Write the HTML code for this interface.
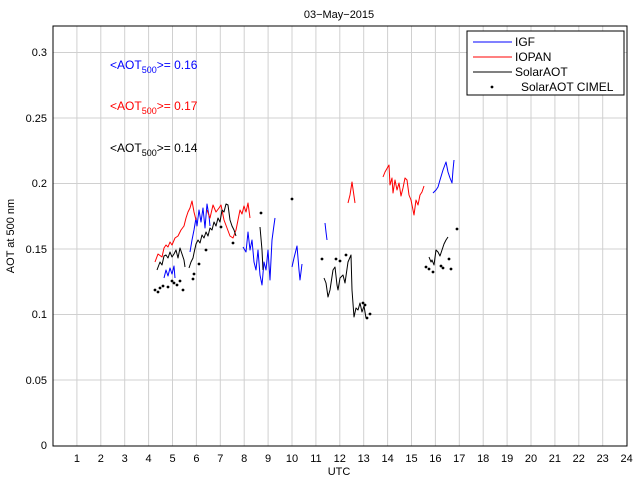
<!DOCTYPE html>
<html><head><meta charset="utf-8"><style>
html,body{margin:0;padding:0;background:#fff;}
svg{display:block;font-family:"Liberation Sans",sans-serif;}
</style></head><body>
<svg width="640" height="480" viewBox="0 0 640 480">
<rect width="640" height="480" fill="#fff"/>
<g stroke="#d0d0d0" stroke-width="1">
<line x1="76.9" y1="26" x2="76.9" y2="446"/><line x1="100.8" y1="26" x2="100.8" y2="446"/><line x1="124.7" y1="26" x2="124.7" y2="446"/><line x1="148.6" y1="26" x2="148.6" y2="446"/><line x1="172.5" y1="26" x2="172.5" y2="446"/><line x1="196.4" y1="26" x2="196.4" y2="446"/><line x1="220.3" y1="26" x2="220.3" y2="446"/><line x1="244.2" y1="26" x2="244.2" y2="446"/><line x1="268.1" y1="26" x2="268.1" y2="446"/><line x1="292" y1="26" x2="292" y2="446"/><line x1="315.9" y1="26" x2="315.9" y2="446"/><line x1="339.8" y1="26" x2="339.8" y2="446"/><line x1="363.7" y1="26" x2="363.7" y2="446"/><line x1="387.6" y1="26" x2="387.6" y2="446"/><line x1="411.5" y1="26" x2="411.5" y2="446"/><line x1="435.4" y1="26" x2="435.4" y2="446"/><line x1="459.3" y1="26" x2="459.3" y2="446"/><line x1="483.2" y1="26" x2="483.2" y2="446"/><line x1="507.1" y1="26" x2="507.1" y2="446"/><line x1="531" y1="26" x2="531" y2="446"/><line x1="554.9" y1="26" x2="554.9" y2="446"/><line x1="578.8" y1="26" x2="578.8" y2="446"/><line x1="602.7" y1="26" x2="602.7" y2="446"/>
<line x1="53" y1="52.5" x2="627" y2="52.5"/><line x1="53" y1="118" x2="627" y2="118"/><line x1="53" y1="183.5" x2="627" y2="183.5"/><line x1="53" y1="249" x2="627" y2="249"/><line x1="53" y1="314.5" x2="627" y2="314.5"/><line x1="53" y1="380" x2="627" y2="380"/>
</g>
<rect x="53" y="26" width="574" height="420" fill="none" stroke="#000" stroke-width="1"/>
<g font-size="11" fill="#000">
<text x="47" y="56" text-anchor="end">0.3</text>
<text x="47" y="122" text-anchor="end">0.25</text>
<text x="47" y="187" text-anchor="end">0.2</text>
<text x="47" y="253" text-anchor="end">0.15</text>
<text x="47" y="318" text-anchor="end">0.1</text>
<text x="47" y="384" text-anchor="end">0.05</text>
<text x="47" y="449" text-anchor="end">0</text>
<g text-anchor="middle">
<text x="76.9" y="462">1</text><text x="100.8" y="462">2</text><text x="124.7" y="462">3</text><text x="148.6" y="462">4</text><text x="172.5" y="462">5</text><text x="196.4" y="462">6</text><text x="220.3" y="462">7</text><text x="244.2" y="462">8</text><text x="268.1" y="462">9</text><text x="292" y="462">10</text><text x="315.9" y="462">11</text><text x="339.8" y="462">12</text><text x="363.7" y="462">13</text><text x="387.6" y="462">14</text><text x="411.5" y="462">15</text><text x="435.4" y="462">16</text><text x="459.3" y="462">17</text><text x="483.2" y="462">18</text><text x="507.1" y="462">19</text><text x="531" y="462">20</text><text x="554.9" y="462">21</text><text x="578.8" y="462">22</text><text x="602.7" y="462">23</text><text x="626.6" y="462">24</text>
<text x="339" y="475">UTC</text>
<text x="339" y="18">03−May−2015</text>
</g>
<text transform="translate(14,236) rotate(-90)" text-anchor="middle">AOT at 500 nm</text>
</g>
<g font-size="12">
<text x="110" y="69" fill="#0000ff">&lt;AOT<tspan font-size="9" dy="4">500</tspan><tspan dy="-4">&gt;= 0.16</tspan></text>
<text x="110" y="110" fill="#ff0000">&lt;AOT<tspan font-size="9" dy="4">500</tspan><tspan dy="-4">&gt;= 0.17</tspan></text>
<text x="110" y="152" fill="#000">&lt;AOT<tspan font-size="9" dy="4">500</tspan><tspan dy="-4">&gt;= 0.14</tspan></text>
</g>
<g fill="none" stroke-width="1" stroke-linejoin="round">
<g stroke="#0000ff">
<polyline points="164,278 166,270 168,276 170,268 172,274 174,266 175,278"/>
<polyline points="190,252 192,240 194,230 196,218 197,226 199,210 201,222 203,208 205,228 207,204 209,216 210,226"/>
<polyline points="243,247 246,252 248,232 250,250 252,240 254,262 256,270 258,250 260,275 262,285 264,262 266,270 268,250 270,280 272,240 274,225 275,218"/>
<polyline points="292,267 294,258 297,246 299,270 300,280 302,264"/>
<polyline points="325,223 326,232 327,240"/>
<polyline points="433,193 436,190 438,187 440,180 443,170 446,162 448,172 450,178 452,183 453,170 454,160"/>
</g>
<g stroke="#ff0000">
<polyline points="155,262 158,254 162,257 164,248 166,245 168,247 170,242 172,245 175,238 178,236 181,230 184,226 186,218 188,212 190,208 192,201 194,212 196,220"/>
<polyline points="207,210 210,218 213,205 216,212 219,208 221,205 224,220 227,228 230,236 233,238 236,230 238,220 240,210 242,214 244,206 246,212 248,203 250,218"/>
<polyline points="348,203 350,195 352,182 354,196 355,203"/>
<polyline points="383,177 385,172 389,165 390,185 392,178 393,193 395,180 397,190 399,183 401,196 403,188 405,178 407,180 409,195 411,200 413,210 414,215 416,200 418,205 420,195 422,192 424,186"/>
</g>
<g stroke="#000">
<polyline points="157,270 160,262 162,265 164,256 166,255 168,258 170,252 172,257 174,254 176,250 178,258 180,248 182,254 184,260 185,267"/>
<polyline points="189,268 191,262 193,258 194,253 196,244 198,240 200,243 202,235 204,238 206,232 208,236 210,228 212,230 214,222 216,226 218,218 220,222 222,210 224,212 226,204 228,205 230,220 232,226 234,230 236,236"/>
<polyline points="260,227 262,250 263,270"/>
<polyline points="324,278 326,283 328,297 330,290 333,270 335,267 337,285 338,290 340,278 343,275 345,283 348,262 351,255 352,290 354,317 356,308 358,310 360,303 362,312 364,306 366,318"/>
<polyline points="429,257 431,262 432,260 434,265 436,250 438,252 440,256 442,250 444,244 446,240 448,237"/>
</g>
</g>
<g fill="#000">
<circle cx="155" cy="290" r="1.4"/><circle cx="158" cy="292" r="1.4"/><circle cx="160" cy="288" r="1.4"/><circle cx="163" cy="286" r="1.4"/><circle cx="168" cy="287" r="1.4"/><circle cx="172" cy="281" r="1.4"/><circle cx="174" cy="283" r="1.4"/><circle cx="177" cy="285" r="1.4"/><circle cx="180" cy="281" r="1.4"/><circle cx="183" cy="290" r="1.4"/><circle cx="193" cy="279" r="1.4"/><circle cx="194" cy="274" r="1.4"/><circle cx="199" cy="264" r="1.4"/><circle cx="206" cy="250" r="1.4"/><circle cx="221" cy="227" r="1.4"/><circle cx="233" cy="243" r="1.4"/><circle cx="261" cy="213" r="1.4"/><circle cx="292" cy="199" r="1.4"/><circle cx="322" cy="259" r="1.4"/><circle cx="336" cy="259" r="1.4"/><circle cx="340" cy="261" r="1.4"/><circle cx="346" cy="255" r="1.4"/><circle cx="363" cy="303" r="1.4"/><circle cx="365" cy="305" r="1.4"/><circle cx="367" cy="318" r="1.4"/><circle cx="370" cy="314" r="1.4"/><circle cx="426" cy="267" r="1.4"/><circle cx="429" cy="269" r="1.4"/><circle cx="433" cy="272" r="1.4"/><circle cx="441" cy="266" r="1.4"/><circle cx="443" cy="268" r="1.4"/><circle cx="449" cy="259" r="1.4"/><circle cx="451" cy="269" r="1.4"/><circle cx="457" cy="229" r="1.4"/>
</g>
<rect x="467" y="31" width="157" height="64" fill="#fff" stroke="#000" stroke-width="1"/>
<g stroke-width="1">
<line x1="473" y1="42" x2="512" y2="42" stroke="#0000ff"/>
<line x1="473" y1="57" x2="512" y2="57" stroke="#ff0000"/>
<line x1="473" y1="72" x2="512" y2="72" stroke="#000"/>
</g>
<circle cx="492" cy="87" r="1.4" fill="#000"/>
<g font-size="12" fill="#000">
<text x="515" y="46">IGF</text>
<text x="515" y="61">IOPAN</text>
<text x="515" y="76">SolarAOT</text>
<text x="521" y="91">SolarAOT CIMEL</text>
</g>
</svg>
</body></html>
